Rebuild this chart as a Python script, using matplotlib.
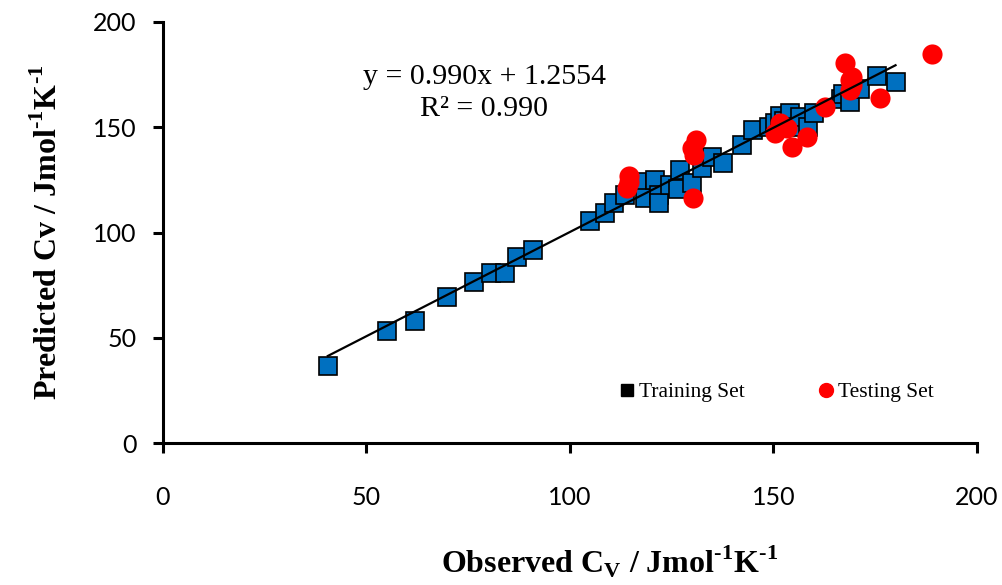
import matplotlib
matplotlib.use("Agg")
import matplotlib.pyplot as plt
from matplotlib.lines import Line2D

# Training set: observed vs predicted Cv
train_obs = [40.5, 55.0, 62.0, 69.8, 76.5, 80.5, 84.0, 87.0, 91.0, 105.0,
             108.5, 110.8, 113.5, 116.5, 118.4, 121.0, 122.0, 122.0, 124.5, 126.5,
             127.0, 130.0, 132.4, 135.0, 137.5, 142.3, 145.0, 149.0, 150.5, 151.5,
             152.5, 154.0, 154.8, 156.5, 158.5, 160.0, 166.5, 167.0, 168.8, 171.3,
             175.5, 180.0]
train_pred = [36.5, 53.0, 58.0, 69.6, 76.5, 80.8, 81.0, 88.5, 91.5, 105.5,
              109.5, 114.0, 117.8, 124.0, 116.4, 125.0, 118.0, 114.0, 122.6, 120.5,
              129.7, 123.5, 130.6, 136.0, 133.0, 141.8, 148.7, 150.0, 152.0, 155.5,
              153.0, 157.0, 150.0, 154.9, 150.0, 157.0, 163.5, 166.0, 162.0, 168.0,
              174.5, 171.5]

# Testing set
test_obs = [114.5, 114.0, 114.5, 131.0, 130.0, 130.5, 130.2, 151.6, 150.4, 154.5,
            158.2, 153.3, 162.7, 168.8, 176.2, 167.6, 169.3, 169.3, 189.0, 168.8]
test_pred = [127.0, 121.0, 124.0, 144.0, 140.0, 137.0, 116.5, 152.0, 147.3, 140.6,
             145.4, 149.6, 159.6, 167.7, 163.9, 180.5, 174.0, 170.0, 185.0, 172.4]

slope = 0.990
intercept = 1.2554
r2 = 0.990

plt.rcParams['mathtext.fontset'] = 'custom'
plt.rcParams['mathtext.rm'] = 'Liberation Serif:bold'
plt.rcParams['mathtext.bf'] = 'Liberation Serif:bold'

fig = plt.figure(figsize=(10.03, 5.85), dpi=100)
ax = fig.add_axes([0.1625, 0.2427, 0.8115, 0.7197])

ax.plot(train_obs, train_pred, 's', color='#0070C0', markersize=13.5,
        markeredgecolor='black', markeredgewidth=1.2, zorder=2)
ax.plot(test_obs, test_pred, 'o', color='#FF0000', markersize=14.5,
        markeredgewidth=0, zorder=3)

# trendline of the training set
x0, x1 = min(train_obs), max(train_obs)
ax.plot([x0, x1], [slope * x0 + intercept, slope * x1 + intercept],
        color='black', linewidth=1.6, zorder=4)

ax.text(79, 166.5, "y = %.3fx + %.4f\nR² = %.3f" % (slope, intercept, r2),
        ha='center', va='center', multialignment='center',
        fontsize=21.5, family='Liberation Serif', linespacing=1.3)

ax.set_xlim(0, 200)
ax.set_ylim(0, 200)
ax.set_xticks([0, 50, 100, 150, 200])
ax.set_yticks([0, 50, 100, 150, 200])
for side in ['top', 'right']:
    ax.spines[side].set_visible(False)
for side in ['left', 'bottom']:
    ax.spines[side].set_linewidth(2.2)
ax.tick_params(axis='both', direction='out', length=7, width=2.2,
               labelsize=18)
ax.tick_params(axis='x', pad=24)
ax.tick_params(axis='y', pad=12)
for lbl in ax.get_xticklabels() + ax.get_yticklabels():
    lbl.set_family('Lato')

hy = '\u2010'  # plain hyphen in the superscripts
ax.set_xlabel(r'Observed C$_\mathbf{V}$ / Jmol$^\mathbf{%s1}$K$^\mathbf{%s1}$' % (hy, hy),
              fontsize=23, family='Liberation Serif', fontweight='bold')
ax.set_ylabel(r'Predicted Cv / Jmol$^\mathbf{%s1}$K$^\mathbf{%s1}$' % (hy, hy),
              fontsize=23, family='Liberation Serif', fontweight='bold')
ax.xaxis.set_label_coords(0.548, -0.238)
ax.yaxis.set_label_coords(-0.122, 0.5)

handles = [Line2D([], [], marker='s', color='black', linestyle='none', markersize=9),
           Line2D([], [], marker='o', color='#FF0000', linestyle='none', markersize=10)]
ax.legend(handles, ['Training Set', 'Testing Set'], ncol=2, frameon=False,
          prop={'family': 'Liberation Serif', 'size': 15.5},
          loc='center', bbox_to_anchor=(0.752, 0.121), handletextpad=0.05,
          handlelength=1.0, columnspacing=3.3)

fig.savefig('out.png', dpi=100)
